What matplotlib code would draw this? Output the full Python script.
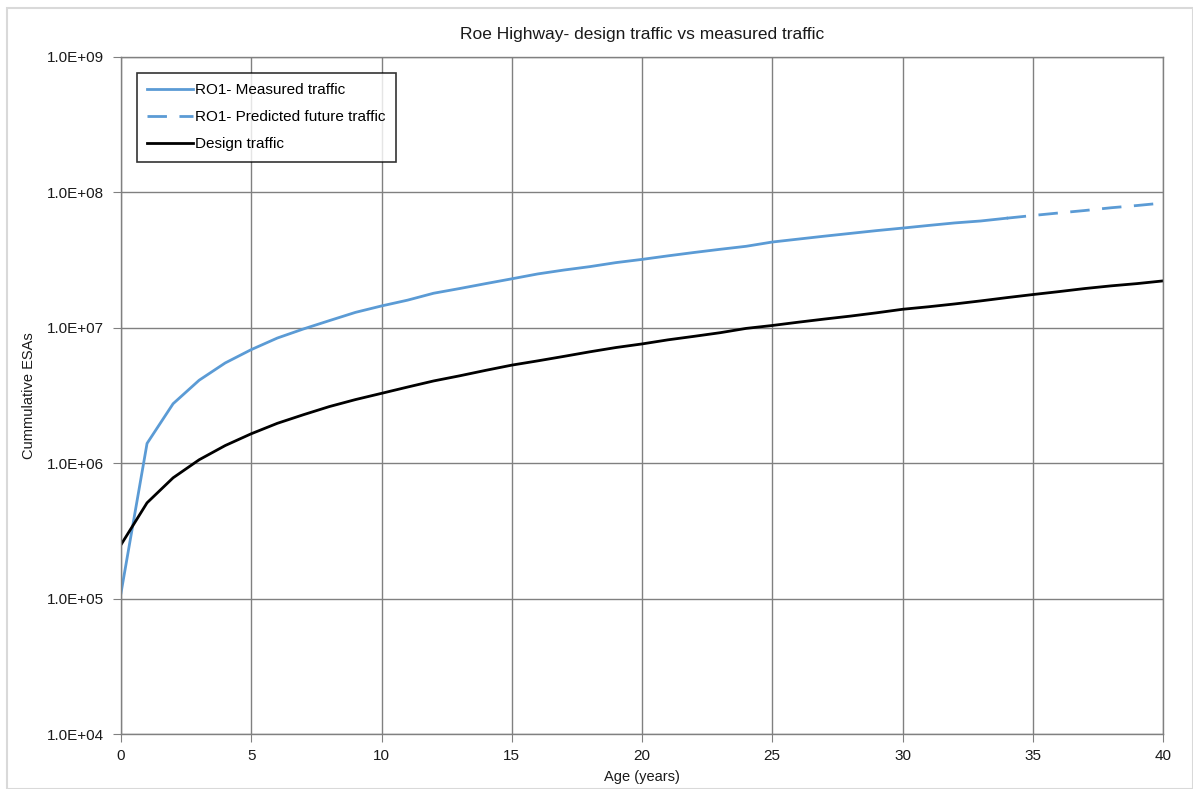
import matplotlib
matplotlib.use("Agg")
import matplotlib.pyplot as plt
from matplotlib.ticker import FuncFormatter, NullLocator, FixedLocator
from matplotlib.patches import Rectangle

plt.rcParams['font.family'] = ['Liberation Sans Narrow', 'Liberation Sans', 'DejaVu Sans']

# values
years_measured = list(range(0, 35))
measured = [1.1e5, 1.4e6, 2.75e6, 4.1e6, 5.5e6, 6.9e6, 8.4e6, 9.8e6, 1.13e7, 1.3e7,
            1.45e7, 1.6e7, 1.8e7, 1.95e7, 2.12e7, 2.3e7, 2.5e7, 2.67e7, 2.83e7, 3.03e7,
            3.2e7, 3.4e7, 3.6e7, 3.8e7, 4.0e7, 4.3e7, 4.52e7, 4.75e7, 4.98e7, 5.22e7,
            5.45e7, 5.7e7, 5.95e7, 6.15e7, 6.45e7]
years_predicted = list(range(34, 41))
predicted = [6.45e7, 6.75e7, 7.05e7, 7.35e7, 7.7e7, 8.0e7, 8.35e7]
years_design = list(range(0, 41))
design = [2.5e5, 5.1e5, 7.8e5, 1.06e6, 1.35e6, 1.65e6, 1.97e6, 2.28e6, 2.62e6, 2.95e6,
          3.28e6, 3.65e6, 4.05e6, 4.42e6, 4.85e6, 5.3e6, 5.7e6, 6.15e6, 6.65e6, 7.15e6,
          7.6e6, 8.15e6, 8.65e6, 9.2e6, 9.9e6, 1.04e7, 1.1e7, 1.16e7, 1.22e7, 1.29e7,
          1.37e7, 1.43e7, 1.5e7, 1.58e7, 1.67e7, 1.76e7, 1.85e7, 1.95e7, 2.04e7, 2.12e7,
          2.22e7]

blue = '#5B9BD5'
grid_col = '#808080'
txt = '#1a1a1a'

fig = plt.figure(figsize=(11.93, 7.89), dpi=100)
ax = fig.add_axes([121/1193, 1 - 734/789, (1163 - 121)/1193, (734 - 57)/789])

ax.plot(years_measured, measured, color=blue, lw=2, label='RO1- Measured traffic')
ax.plot(years_predicted, predicted, color=blue, lw=2, dashes=(7, 4.5),
        label='RO1- Predicted future traffic')
ax.plot(years_design, design, color='black', lw=2, label='Design traffic')

ax.set_yscale('log')
ax.set_xlim(0, 40)
ax.set_ylim(1e4, 1e9)
ax.xaxis.set_major_locator(FixedLocator(range(0, 41, 5)))
ax.yaxis.set_major_locator(FixedLocator([1e4, 1e5, 1e6, 1e7, 1e8, 1e9]))
ax.yaxis.set_minor_locator(NullLocator())
ax.yaxis.set_major_formatter(FuncFormatter(lambda v, p: f"{v:.1E}"))
ax.grid(True, color=grid_col, lw=1)
ax.set_axisbelow(True)
for s in ax.spines.values():
    s.set_color(grid_col)
    s.set_linewidth(1)
ax.tick_params(axis='both', direction='out', length=6, color=grid_col, labelsize=11,
               labelcolor=txt)
ax.tick_params(axis='y', pad=6)
ax.tick_params(axis='x', pad=5)

ax.set_title('Roe Highway- design traffic vs measured traffic', fontsize=12.5, pad=13,
             color=txt)
ax.set_xlabel('Age (years)', fontsize=10.5, labelpad=5, color=txt)
ax.set_ylabel('Cummulative ESAs', fontsize=10.5, labelpad=8, color=txt)

leg = ax.legend(loc='upper left', bbox_to_anchor=(0.015, 0.977), fontsize=11,
                frameon=True, fancybox=False, handlelength=3.0, handletextpad=0.1,
                borderpad=0.7, labelspacing=0.85, borderaxespad=0)
leg.get_frame().set_edgecolor('black')
leg.get_frame().set_linewidth(1.2)

fig.patches.append(Rectangle((7/1193, 0), 1 - 7/1193, 1 - 8/789, transform=fig.transFigure,
                             fill=False, edgecolor='#d9d9d9', lw=1.5))

fig.savefig('out.png', dpi=100)
